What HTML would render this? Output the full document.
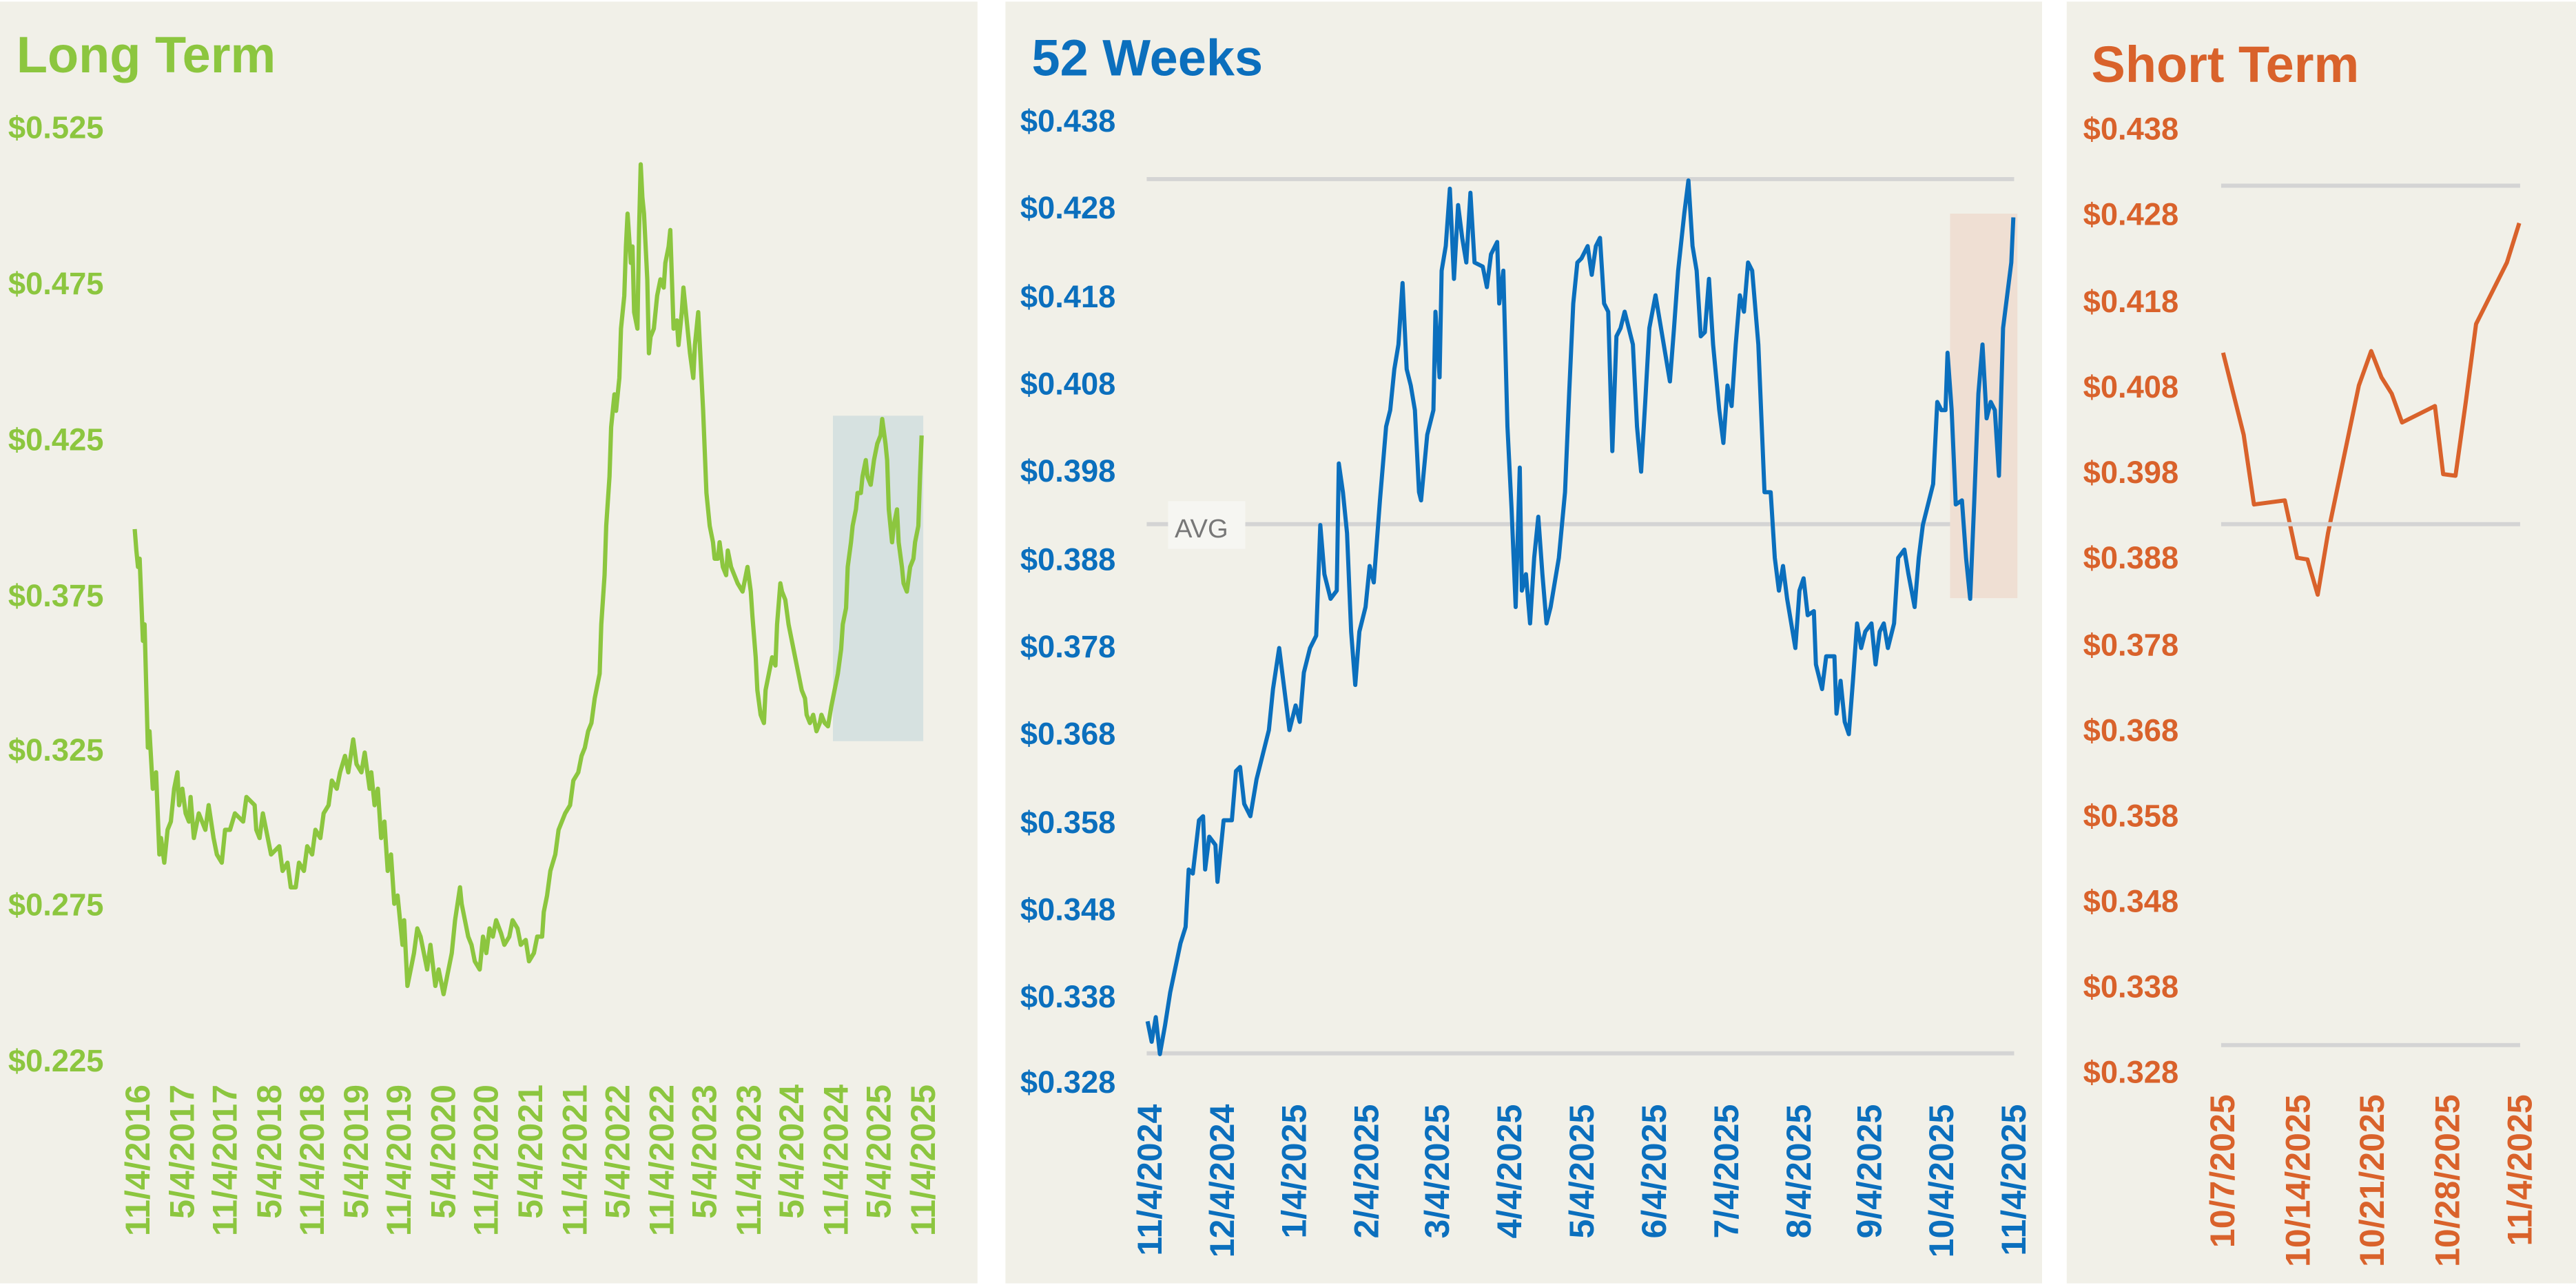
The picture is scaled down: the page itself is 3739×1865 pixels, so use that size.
<!DOCTYPE html>
<html><head><meta charset="utf-8"><style>
html,body{margin:0;padding:0;background:#fff}
svg{display:block}
text{font-family:"Liberation Sans",sans-serif;font-weight:bold}
</style></head><body>
<svg width="3739" height="1865" viewBox="0 0 1568 782" preserveAspectRatio="none" xmlns="http://www.w3.org/2000/svg">
<rect width="1568" height="782" fill="#fff"/>
<rect x="0" y="1" width="595" height="780" fill="#f1f0e8"/>
<rect x="612" y="1" width="631" height="780" fill="#f1f0e8"/>
<rect x="1258" y="1" width="310" height="780" fill="#f1f0e8"/>

<!-- Panel 1 -->
<text x="10" y="44" font-size="31" fill="#8cc63f">Long Term</text>
<g font-size="19" fill="#8cc63f">
<text x="5" y="84">$0.525</text><text x="5" y="179">$0.475</text><text x="5" y="274">$0.425</text>
<text x="5" y="369">$0.375</text><text x="5" y="463">$0.325</text><text x="5" y="557">$0.275</text><text x="5" y="652">$0.225</text>
</g>
<rect x="507" y="253" width="55" height="198" fill="#d6e1e0"/>
<polyline fill="none" stroke="#8cc63f" stroke-width="2.6" stroke-linejoin="round" points="82,322 83,335 84,345 85,340 87,390 88,380 90,455 91,445 93,480 95,470 97,520 98,510 100,525 102,505 104,500 106,480 108,470 109,490 111,480 113,495 115,500 116,485 118,510 121,495 125,505 127,490 130,510 132,520 135,525 137,505 140,505 143,495 148,500 150,485 155,490 156,505 158,510 160,495 162,505 165,520 170,515 172,530 175,525 177,540 180,540 182,525 185,530 187,515 190,520 192,505 195,510 197,495 200,490 202,475 205,480 207,470 210,460 212,470 215,450 217,465 220,470 222,458 225,480 226,470 228,490 230,480 232,510 234,500 236,530 238,520 240,550 242,545 245,575 246,560 248,600 250,590 252,580 254,565 256,570 258,580 260,590 262,575 265,600 267,590 270,605 272,595 275,580 277,560 280,540 281,550 283,560 285,570 287,575 289,585 292,590 294,570 296,580 298,565 300,570 302,560 305,568 307,575 310,570 312,560 315,565 317,575 320,572 322,585 325,580 327,570 330,570 331,555 333,545 335,530 338,520 340,505 342,500 344,495 347,490 349,475 352,470 354,460 356,455 358,445 360,440 362,425 365,410 366,380 368,350 369,320 371,290 372,260 374,240 375,250 377,230 378,200 380,180 381,150 382,130 384,160 385,150 386,190 388,200 389,140 390,100 391,120 392,130 394,170 395,215 396,205 398,200 400,180 402,170 404,175 405,160 407,150 408,140 409,170 410,200 412,195 413,210 415,190 416,175 417,185 418,195 420,215 422,230 423,210 425,190 427,230 428,250 429,275 430,300 432,320 434,330 435,340 437,340 438,330 440,345 442,350 443,335 445,345 447,350 449,355 452,360 454,350 455,345 457,360 458,375 460,400 461,420 463,435 465,440 466,420 468,410 470,400 472,405 473,380 475,355 476,360 478,365 480,380 482,390 484,400 486,410 488,420 490,425 491,435 493,440 495,435 497,445 499,440 500,435 502,440 504,442 506,430 508,420 510,410 512,395 513,380 515,370 516,345 518,330 519,320 521,310 522,300 524,300 525,290 527,280 528,290 530,295 532,280 534,270 536,265 537,255 539,270 540,280 541,310 543,330 544,320 546,310 547,330 549,345 550,355 552,360 554,345 556,340 557,330 559,320 560,290 561,265"/>
<g font-size="21" fill="#8cc63f" text-anchor="end">
<text transform="translate(91,660) rotate(-90)">11/4/2016</text>
<text transform="translate(118,660) rotate(-90)">5/4/2017</text>
<text transform="translate(144,660) rotate(-90)">11/4/2017</text>
<text transform="translate(171,660) rotate(-90)">5/4/2018</text>
<text transform="translate(197,660) rotate(-90)">11/4/2018</text>
<text transform="translate(224,660) rotate(-90)">5/4/2019</text>
<text transform="translate(250,660) rotate(-90)">11/4/2019</text>
<text transform="translate(277,660) rotate(-90)">5/4/2020</text>
<text transform="translate(303,660) rotate(-90)">11/4/2020</text>
<text transform="translate(330,660) rotate(-90)">5/4/2021</text>
<text transform="translate(357,660) rotate(-90)">11/4/2021</text>
<text transform="translate(383,660) rotate(-90)">5/4/2022</text>
<text transform="translate(410,660) rotate(-90)">11/4/2022</text>
<text transform="translate(436,660) rotate(-90)">5/4/2023</text>
<text transform="translate(463,660) rotate(-90)">11/4/2023</text>
<text transform="translate(489,660) rotate(-90)">5/4/2024</text>
<text transform="translate(516,660) rotate(-90)">11/4/2024</text>
<text transform="translate(542,660) rotate(-90)">5/4/2025</text>
<text transform="translate(569,660) rotate(-90)">11/4/2025</text>
</g>

<!-- Panel 2 -->
<text x="628" y="46" font-size="31" fill="#0b6fbd">52 Weeks</text>
<g font-size="19" fill="#0b6fbd">
<text x="621" y="80">$0.438</text><text x="621" y="133">$0.428</text><text x="621" y="187">$0.418</text>
<text x="621" y="240">$0.408</text><text x="621" y="293">$0.398</text><text x="621" y="347">$0.388</text>
<text x="621" y="400">$0.378</text><text x="621" y="453">$0.368</text><text x="621" y="507">$0.358</text>
<text x="621" y="560">$0.348</text><text x="621" y="613">$0.338</text><text x="621" y="665">$0.328</text>
</g>
<g stroke="#d4d4d4" stroke-width="2.5"><line x1="698" y1="109" x2="1226" y2="109"/><line x1="698" y1="319" x2="1226" y2="319"/><line x1="698" y1="641" x2="1226" y2="641"/></g>
<rect x="711" y="305" width="47" height="29" fill="#f6f6f2"/>
<text x="715" y="327" font-size="16" style="font-weight:normal" fill="#777">AVG</text>
<rect x="1187" y="130" width="41" height="234" fill="#efdfd3"/>
<g transform="translate(587.1,0) scale(0.6259,0.4992)">
<polyline fill="none" stroke="#0b6fbd" stroke-width="6" vector-effect="non-scaling-stroke" stroke-linejoin="round" points="178,1245 182,1270 186,1240 190,1285 195,1250 200,1210 205,1180 210,1150 215,1130 218,1060 222,1065 228,1000 232,995 234,1060 238,1020 244,1030 246,1075 252,1000 260,1000 264,940 268,935 272,980 278,995 284,950 290,920 296,890 300,840 306,790 312,850 316,890 322,860 326,880 330,820 336,790 342,775 346,640 350,700 356,730 362,720 364,565 368,600 372,650 376,770 380,835 384,770 390,740 394,690 398,710 404,610 410,520 414,500 418,450 422,420 426,345 430,450 434,470 438,500 442,600 444,610 450,530 456,500 458,380 462,460 464,330 468,300 472,230 476,340 480,250 484,290 488,320 492,235 496,320 504,325 508,350 512,310 518,295 520,370 524,330 528,520 532,620 536,740 540,570 542,720 546,700 550,760 554,680 558,630 562,700 566,760 570,740 574,710 578,680 584,600 588,480 592,370 596,320 600,315 606,300 610,335 614,300 618,290 622,370 626,380 630,550 634,410 638,400 642,380 646,400 650,420 654,520 658,575 662,490 666,400 672,360 676,390 680,420 686,465 690,400 694,330 700,260 704,220 708,300 712,330 716,410 720,405 724,340 728,420 734,500 738,540 742,470 746,495 750,420 754,360 758,380 762,320 766,330 772,420 778,600 784,600 788,680 792,720 796,690 800,730 804,760 808,790 812,720 816,705 820,750 826,745 828,810 834,840 838,800 846,800 848,870 852,830 856,880 860,895 864,830 868,760 872,790 876,770 882,760 886,810 890,770 894,760 898,790 904,760 908,680 914,670 918,700 924,740 928,680 932,640 938,610 942,590 946,490 950,500 954,500 956,430 960,500 964,615 970,610 974,680 978,730 982,610 986,480 990,420 994,510 998,490 1002,500 1006,580 1010,400 1014,360 1018,320 1020,265"/>
<polyline fill="none" stroke="#d9622b" stroke-width="6" vector-effect="non-scaling-stroke" stroke-linejoin="round" points="1224,430 1234,480 1244,530 1254,615 1284,610 1296,680 1306,682 1316,725 1326,650 1336,590 1346,530 1356,470 1368,428 1378,460 1388,480 1398,515 1430,495 1438,578 1450,580 1460,490 1470,395 1480,370 1490,345 1500,320 1512,272"/>
</g>
<g font-size="21" fill="#0b6fbd" text-anchor="end">
<text transform="translate(707,672) rotate(-90)">11/4/2024</text>
<text transform="translate(751,672) rotate(-90)">12/4/2024</text>
<text transform="translate(795,672) rotate(-90)">1/4/2025</text>
<text transform="translate(839,672) rotate(-90)">2/4/2025</text>
<text transform="translate(882,672) rotate(-90)">3/4/2025</text>
<text transform="translate(926,672) rotate(-90)">4/4/2025</text>
<text transform="translate(970,672) rotate(-90)">5/4/2025</text>
<text transform="translate(1014,672) rotate(-90)">6/4/2025</text>
<text transform="translate(1058,672) rotate(-90)">7/4/2025</text>
<text transform="translate(1102,672) rotate(-90)">8/4/2025</text>
<text transform="translate(1145,672) rotate(-90)">9/4/2025</text>
<text transform="translate(1189,672) rotate(-90)">10/4/2025</text>
<text transform="translate(1233,672) rotate(-90)">11/4/2025</text>
</g>

<!-- Panel 3 -->
<text x="1273" y="50" font-size="31" fill="#d9622b">Short Term</text>
<g font-size="19" fill="#d9622b">
<text x="1268" y="85">$0.438</text><text x="1268" y="137">$0.428</text><text x="1268" y="190">$0.418</text>
<text x="1268" y="242">$0.408</text><text x="1268" y="294">$0.398</text><text x="1268" y="346">$0.388</text>
<text x="1268" y="399">$0.378</text><text x="1268" y="451">$0.368</text><text x="1268" y="503">$0.358</text>
<text x="1268" y="555">$0.348</text><text x="1268" y="607">$0.338</text><text x="1268" y="659">$0.328</text>
</g>
<g stroke="#d4d4d4" stroke-width="2.5"><line x1="1352" y1="113" x2="1534" y2="113"/><line x1="1352" y1="319" x2="1534" y2="319"/><line x1="1352" y1="636" x2="1534" y2="636"/></g>
<g font-size="21" fill="#d9622b" text-anchor="end">
<text transform="translate(1360,666) rotate(-90)">10/7/2025</text>
<text transform="translate(1406,666) rotate(-90)">10/14/2025</text>
<text transform="translate(1451,666) rotate(-90)">10/21/2025</text>
<text transform="translate(1497,666) rotate(-90)">10/28/2025</text>
<text transform="translate(1541,666) rotate(-90)">11/4/2025</text>
</g>
</svg>
</body></html>
